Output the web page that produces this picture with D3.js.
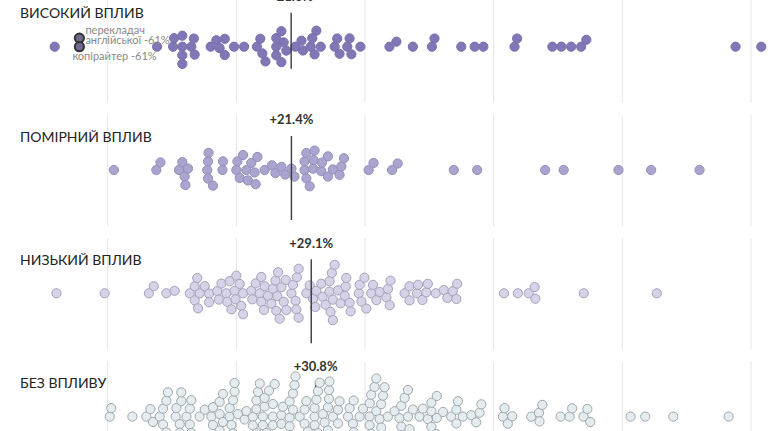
<!DOCTYPE html>
<html><head><meta charset="utf-8">
<script src="https://cdn.jsdelivr.net/npm/d3@7"></script>
<style>body{margin:0;background:#fff}svg{display:block}</style>
</head><body>
<svg id="c" width="770" height="431"></svg>
<script>
const categories = ["ВИСОКИЙ ВПЛИВ", "ПОМІРНИЙ ВПЛИВ", "НИЗЬКИЙ ВПЛИВ", "БЕЗ ВПЛИВУ"];
const medians = [21.3, 21.4, 29.1, 30.8];
const gridTicks = [-50, 0, 50, 100, 150, 200];

const highValues = [-70.6, -30.8, -24.2, -24.6, -21.0, -21.0, -21.0, -21.0, -16.5, -17.5, -16.2,
  -10.0, -7.8, -6.5, -4.5, -4.5, -0.9, 3.0, 8.0, 9.3, 10.1, 11.3, 15.5, 15.5, 15.5, 17.5, 17.5, 18.4, 19.4,
  22.9, 25.3, 25.9, 28.9, 29.5, 30.4, 31.1, 32.8, 38.2, 39.2, 40.1, 43.1, 44.0, 44.7, 48.2,
  59.5, 62.2, 68.6, 76.0, 77.0, 87.4, 92.6, 96.0, 108.1, 109.1, 122.8, 126.3, 130.1, 134.0, 136.0, 194.0, 204.0];
const highlightValues = [-61, -61];
const highlightLabels = [["перекладач", "англійської -61%"], ["копірайтер -61%"]];

const moderateValues = [-47.6, -31.1, -29.5, -22.3, -21.0, -18.8, -20.1, -19.8, -11.0, -9.1, -11.3, -11.0, -10.8,
  -5.2, -5.4, 0.4, 2.6, 4.5, 7.5, 0.0, 3.9, 7.1, 1.3, 5.8, 8.2, 11.0, 13.8, 15.2, 17.5, 19.0, 21.4, 22.6,
  26.5, 28.5, 26.5, 29.8, 33.0, 27.2, 30.4, 33.3, 35.6, 35.6, 37.5, 40.8, 40.1, 41.8, 27.2, 30.0,
  51.4, 53.3, 60.5, 62.7, 84.5, 93.6, 120.0, 127.2, 148.5, 161.2, 180.0];

const lowValues = [-69.9, -51.2, -34.0, -32.1, -27.2, -24.0,
  -14.9, -16.2, -18.1, -12.3, -14.2, -16.2, -10.6, -15.2, -10.6,
  -6.8, -3.5, 0.0, 1.9, -7.4, -3.9, -0.7, 2.6, -5.8, -2.6, -0.3, 1.3, -1.9, 2.6,
  5.8, 7.5, 9.7, 12.3, 6.2, 9.1, 9.7, 10.7, 11.0,
  14.2, 15.9, 17.5, 13.6, 16.8, 15.2, 15.5, 16.2, 18.4, 19.2, 19.4,
  21.4, 22.0, 23.5, 24.2, 23.0, 23.3, 24.2,
  27.2, 28.5, 29.8, 30.7, 31.1,
  37.5, 37.1, 36.2, 33.5, 34.7, 33.0, 36.2, 36.6, 37.5, 38.2,
  40.5, 42.7, 39.5, 42.1, 44.0, 42.5, 44.4,
  47.9, 49.8, 47.6, 48.6, 50.5, 53.1, 55.7, 52.4, 54.4, 58.9, 58.3, 59.6, 59.9,
  65.4, 67.3, 67.3, 70.6, 70.2, 72.3, 74.4, 73.8, 77.5, 80.6, 82.0, 84.1, 85.8, 85.5,
  104.0, 109.4, 113.6, 115.9, 116.2, 135.0, 163.4];

const noneValues = [-48.6, -49.2, -40.4, -33.4, -35.0, -32.4, -26.6, -27.2, -28.5, -29.8, -28.5,
  -21.4, -22.0, -23.6, -23.3, -21.4, -17.5, -18.1, -19.4, -18.1, -14.3, -12.3, -9.1, -9.7, -9.1,
  -6.5, -5.2, -6.5, -5.8, -2.6, -1.3, -0.7, -0.7, -2.6, -1.9, 0.6, 3.2, 6.4, 8.4, 9.1, 7.8, 3.9, 6.4, 7.8,
  10.3, 12.7, 14.9, 11.0, 11.7, 10.3, 14.2, 14.2, 14.9, 17.5, 18.1, 17.5, 20.7, 22.0, 22.6, 23.0, 20.7, 22.0, 20.7,
  24.6, 26.5, 27.2, 27.8, 30.4, 31.7, 31.7, 32.4, 30.4, 31.1, 36.0, 35.6, 36.0, 36.2, 33.6, 34.3, 37.5, 39.5, 40.1,
  43.4, 44.0, 45.6, 45.3, 47.9, 49.2, 51.8, 52.4, 53.7, 54.4, 51.8, 55.7, 57.0, 54.4, 56.3, 57.6, 57.0, 57.6, 58.9,
  61.5, 64.1, 66.7, 64.1, 63.4, 65.4, 67.3, 66.7, 68.6, 72.5, 71.2, 75.8, 77.9, 74.4, 75.8, 77.7, 80.3, 83.5,
  85.5, 85.5, 86.1, 88.0, 91.3, 93.2, 94.5, 95.2, 104.2, 103.6, 107.2, 105.5, 114.6, 117.6, 117.8, 118.9,
  126.0, 129.5, 130.5, 134.9, 136.4, 137.5, 153.2, 158.9, 169.8, 191.3,
  -26.6, -21.4, -5.2, -0.7, -0.7, 8.4, 9.1, 7.8, 12.7, 14.9, 11.0, 22.0, 22.6, 23.0, 31.7, 31.7, 32.4, 36.0, 35.6, 36.0,
  45.6, 52.4, 53.7, 54.4, 66.7, 77.9, -27.2, -22.0, -17.5, -6.5, -1.3, 14.2, 20.7, 26.5, 30.4, 36.2, 39.5, 51.8, 56.3, 64.1, 75.8];

const rowValues = [highValues, moderateValues, lowValues, noneValues];
const rowFill = ["#8277b6", "#aaa5cf", "#d6d3e8", "#e4ecef"];
const rowStroke = ["#7a6fae", "#928dbb", "#a4a1b9", "#9fa7aa"];

const svg = d3.select("#c");
const x = d3.scaleLinear().domain([-50, 200]).range([107.7, 751]);
const row0 = 46.7, pitch = 123.3, R = 4.6, CR = 4.3;
const medianBottom = [22, 50, 50, 50];
const FONT = "Lato, 'Open Sans', sans-serif";

// greedy symmetric beeswarm (dodge)
function swarm(items, cy) {
  const d = 2 * CR;
  const pts = items.map((it, i) => ({ ...it, px: x(it.v), i })).sort((a, b) => a.px - b.px || a.i - b.i);
  const placed = [];
  for (const p of pts) {
    const near = placed.filter(q => Math.abs(q.px - p.px) < d);
    const cands = [0];
    for (const q of near) {
      const dy = Math.sqrt(d * d - (q.px - p.px) ** 2);
      cands.push(q.dy + dy, q.dy - dy);
    }
    cands.sort((a, b) => Math.abs(a) - Math.abs(b) || a - b);
    for (const c of cands) {
      if (near.every(q => (q.px - p.px) ** 2 + (q.dy - c) ** 2 >= d * d - 1e-6)) { p.dy = c; break; }
    }
    placed.push(p);
  }
  pts.forEach(p => { p.x = p.px; p.y = cy + p.dy; });
  return pts;
}

categories.forEach((cat, r) => {
  const cy = row0 + r * pitch;
  const g = svg.append("g");
  g.selectAll("line.grid").data(gridTicks).join("line")
    .attr("x1", d => x(d)).attr("x2", d => x(d))
    .attr("y1", cy - 55).attr("y2", cy + 56)
    .attr("stroke", "#e6e6e6").attr("stroke-width", 1);
  g.append("text").attr("x", 20).attr("y", cy - 33.4).attr("dy", "0.35em")
    .attr("font-family", FONT).attr("font-size", 14).attr("fill", "#222")
    .text(cat);
  const mx = x(medians[r]);
  const mline = () => g.append("line").attr("x1", mx).attr("x2", mx)
    .attr("y1", cy - 34).attr("y2", cy + medianBottom[r])
    .attr("stroke", "#3a3a3a").attr("stroke-width", 1.4);
  if (r === 3) mline();
  let items = rowValues[r].map(v => ({ v, hi: false }));
  if (r === 0) items = items.concat(highlightValues.map(v => ({ v, hi: true })));
  const nodes = swarm(items, cy);
  g.selectAll("circle").data(nodes.filter(n => !n.hi)).join("circle")
    .attr("cx", d => d.x).attr("cy", d => d.y).attr("r", R)
    .attr("fill", rowFill[r]).attr("stroke", rowStroke[r]).attr("stroke-width", 1);
  if (r === 0) {
    const hs = nodes.filter(n => n.hi).sort((a, b) => a.y - b.y);
    g.selectAll("circle.hi").data(hs).join("circle").attr("class", "hi")
      .attr("cx", d => d.x).attr("cy", d => d.y).attr("r", R)
      .attr("fill", "#6f6a8c").attr("stroke", "#333").attr("stroke-width", 2);
    const top = hs[0], bot = hs[1];
    const t1 = g.append("text").attr("font-family", FONT).attr("font-size", 11).attr("fill", "#888");
    highlightLabels[0].forEach((s, k) => t1.append("tspan").attr("x", top.x + 6).attr("y", top.y - 4 + k * 10).text(s));
    g.append("text").attr("font-family", FONT).attr("font-size", 11).attr("fill", "#888")
      .attr("x", bot.x - 7).attr("y", bot.y + 13).text(highlightLabels[1][0]);
  }
  if (r !== 3) mline();
  g.append("text").attr("x", mx).attr("y", cy - 50.1).attr("dy", "0.35em").attr("text-anchor", "middle")
    .attr("font-family", FONT).attr("font-size", 13).attr("font-weight", 700).attr("fill", "#333")
    .text("+" + medians[r].toFixed(1) + "%");
});
</script>
</body></html>
